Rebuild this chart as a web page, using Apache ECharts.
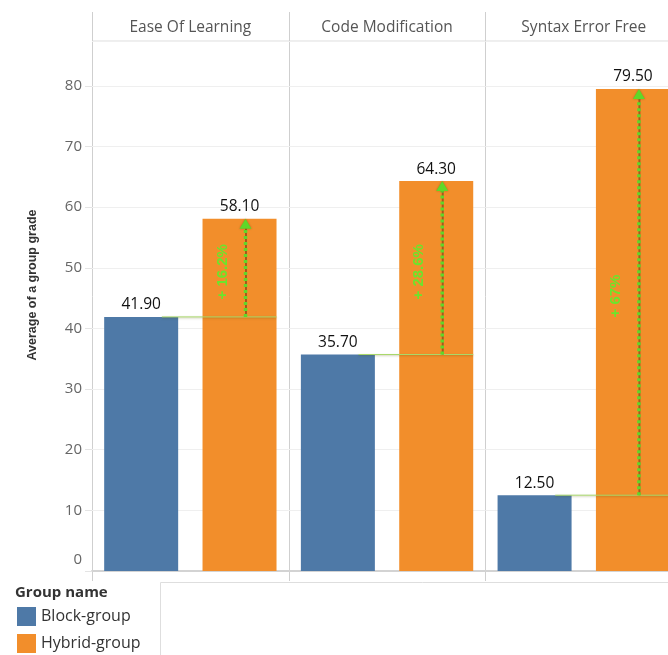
<!DOCTYPE html>
<html>
<head>
<meta charset="utf-8">
<script src="https://cdn.jsdelivr.net/npm/echarts@6/dist/echarts.min.js"></script>
<style>
  html, body { margin: 0; padding: 0; background: #fff; overflow: hidden; }
  #chart { width: 684px; height: 655px; }
</style>
</head>
<body>
<div id="chart"></div>
<script>
// Facets (one panel per skill) and the two groups compared in each panel
const categories = ['Ease Of Learning', 'Code Modification', 'Syntax Error Free'];
const groupNames = ['Block-group', 'Hybrid-group'];
const blockValues = [41.9, 35.7, 12.5];
const hybridValues = [58.1, 64.3, 79.5];
const yTickStep = 10;
const yAxisTitle = 'Average of a group grade';
const legendTitle = 'Group name';

// Layout
const PLOT_LEFT = 92;
const PANEL_W = 196.7;
const PLOT_TOP = 41;
const PLOT_H = 530;
const HEADER_TOP = 12;
const Y_MAX = 87.4;
const COLORS = ['#4e79a7', '#f28e2b'];
const GREEN = '#5fd829';
const FONT = '"Open Sans", "Noto Sans", sans-serif';
const TITLE_FONT = '"Liberation Sans", Arial, sans-serif';

const chart = echarts.init(document.getElementById('chart'));

const grids = [], xAxes = [], yAxes = [], series = [];

categories.forEach((cat, i) => {
  grids.push({
    left: PLOT_LEFT + i * PANEL_W,
    top: PLOT_TOP,
    width: PANEL_W,
    height: PLOT_H,
    containLabel: false
  });
  xAxes.push({
    type: 'category',
    gridIndex: i,
    data: groupNames,
    boundaryGap: true,
    axisLine: { show: true, lineStyle: { color: '#d3d3d3', width: 2 } },
    axisTick: { show: false },
    axisLabel: { show: false }
  });
  yAxes.push({
    type: 'value',
    gridIndex: i,
    min: 0,
    max: Y_MAX,
    interval: yTickStep,
    axisLine: { show: false },
    axisTick: { show: i === 0, length: 7, lineStyle: { color: '#e4e4e4' } },
    axisLabel: {
      show: i === 0,
      showMaxLabel: false,
      margin: 10,
      fontFamily: FONT,
      fontSize: 15,
      color: '#666',
      formatter: v => (v === 0 ? '{z|0}' : String(v)),
      rich: { z: { fontFamily: FONT, fontSize: 15, color: '#666', padding: [0, 0, 22, 0] } }
    },
    splitLine: { show: true, lineStyle: { color: '#efefef', width: 1 } }
  });

  const labelCfg = {
    show: true,
    position: 'top',
    distance: 4,
    fontFamily: FONT,
    fontSize: 15.5,
    color: '#111',
    formatter: p => Number(p.value).toFixed(2)
  };

  series.push({
    name: groupNames[0],
    type: 'bar',
    xAxisIndex: i,
    yAxisIndex: i,
    barWidth: 74,
    barGap: '-100%',
    itemStyle: { color: COLORS[0] },
    label: labelCfg,
    data: [blockValues[i], '-']
  });
  series.push({
    name: groupNames[1],
    type: 'bar',
    xAxisIndex: i,
    yAxisIndex: i,
    barWidth: 74,
    barGap: '-100%',
    itemStyle: { color: COLORS[1] },
    label: labelCfg,
    data: ['-', hybridValues[i]]
  });

  // Difference annotation: baseline at the block value, dotted arrow up to the hybrid value
  series.push({
    name: 'difference',
    type: 'custom',
    xAxisIndex: i,
    yAxisIndex: i,
    z: 10,
    silent: true,
    clip: false,
    encode: { x: 0, y: [1, 2] },
    data: [[1, blockValues[i], hybridValues[i]]],
    renderItem: (params, api) => {
      const b = api.value(1);
      const h = api.value(2);
      const band = api.size([1, 0])[0];
      const c0 = api.coord([0, b]);
      const pb = api.coord([1, b]);
      const ph = api.coord([1, h]);
      const ax = pb[0] + 6;
      const diff = parseFloat((h - b).toFixed(1));
      return {
        type: 'group',
        children: [
          {
            type: 'line',
            shape: { x1: c0[0] + band * 0.21, y1: pb[1], x2: pb[0] + 37, y2: pb[1] },
            style: { stroke: '#a9d86a', lineWidth: 1, shadowColor: 'rgba(80,80,0,0.35)', shadowBlur: 2, shadowOffsetY: 1 }
          },
          {
            type: 'line',
            shape: { x1: ax + 0.5, y1: pb[1], x2: ax + 0.5, y2: ph[1] + 8 },
            style: { stroke: 'rgba(110,55,20,0.6)', lineWidth: 2 }
          },
          {
            type: 'line',
            shape: { x1: ax, y1: pb[1], x2: ax, y2: ph[1] + 8 },
            style: { stroke: GREEN, lineWidth: 3.5, lineDash: [3, 3] }
          },
          {
            type: 'polygon',
            shape: { points: [[ax - 6, ph[1] + 10], [ax, ph[1]], [ax + 6, ph[1] + 10]] },
            style: { fill: GREEN, shadowColor: 'rgba(80,40,0,0.4)', shadowBlur: 2 }
          },
          {
            type: 'text',
            x: pb[0] - 17,
            y: (pb[1] + ph[1]) / 2 + 4,
            rotation: Math.PI / 2,
            style: {
              text: '+ ' + diff + '%',
              fill: '#6be52c',
              font: 'bold 15px ' + TITLE_FONT,
              align: 'center',
              verticalAlign: 'middle'
            }
          }
        ]
      };
    }
  });
});

// Facet headers, panel frame lines and the legend box outline
const graphics = [];
const plotBottom = PLOT_TOP + PLOT_H;
graphics.push({
  type: 'line', silent: true,
  shape: { x1: PLOT_LEFT, y1: PLOT_TOP, x2: PLOT_LEFT + categories.length * PANEL_W, y2: PLOT_TOP },
  style: { stroke: '#dcdcdc', lineWidth: 1 }
});
for (let i = 0; i <= categories.length; i++) {
  const x = Math.round(PLOT_LEFT + i * PANEL_W) + 0.5;
  graphics.push({
    type: 'line', silent: true,
    shape: { x1: x, y1: HEADER_TOP, x2: x, y2: plotBottom + 10 },
    style: { stroke: '#cfcfcf', lineWidth: 1 }
  });
}
categories.forEach((cat, i) => {
  graphics.push({
    type: 'text', silent: true,
    x: PLOT_LEFT + (i + 0.5) * PANEL_W,
    y: 28,
    style: { text: cat, fill: '#555', font: '15.5px ' + FONT, align: 'center', verticalAlign: 'middle' }
  });
});
graphics.push({
  type: 'text', silent: true,
  x: 33, y: 285, rotation: Math.PI / 2,
  style: { text: yAxisTitle, fill: '#333', font: 'bold 12.5px ' + TITLE_FONT, align: 'center', verticalAlign: 'middle' }
});
graphics.push({
  type: 'text', silent: true,
  x: 15, y: 593,
  style: { text: legendTitle, fill: '#333', font: 'bold 15px ' + FONT, align: 'left', verticalAlign: 'middle' }
});
graphics.push({
  type: 'polyline', silent: true,
  shape: { points: [[160.5, 660], [160.5, 582.5], [700, 582.5]] },
  style: { stroke: '#dedede', lineWidth: 1, fill: null }
});

chart.setOption({
  animation: false,
  textStyle: { fontFamily: FONT },
  grid: grids,
  xAxis: xAxes,
  yAxis: yAxes,
  series: series,
  legend: {
    data: groupNames,
    orient: 'vertical',
    left: 17,
    top: 607,
    padding: 0,
    itemWidth: 19,
    itemHeight: 19,
    itemGap: 8,
    icon: 'rect',
    selectedMode: false,
    textStyle: { fontFamily: FONT, fontSize: 16, color: '#333', padding: [3, 0, 0, 0] }
  },
  graphic: graphics
});
</script>
</body>
</html>
